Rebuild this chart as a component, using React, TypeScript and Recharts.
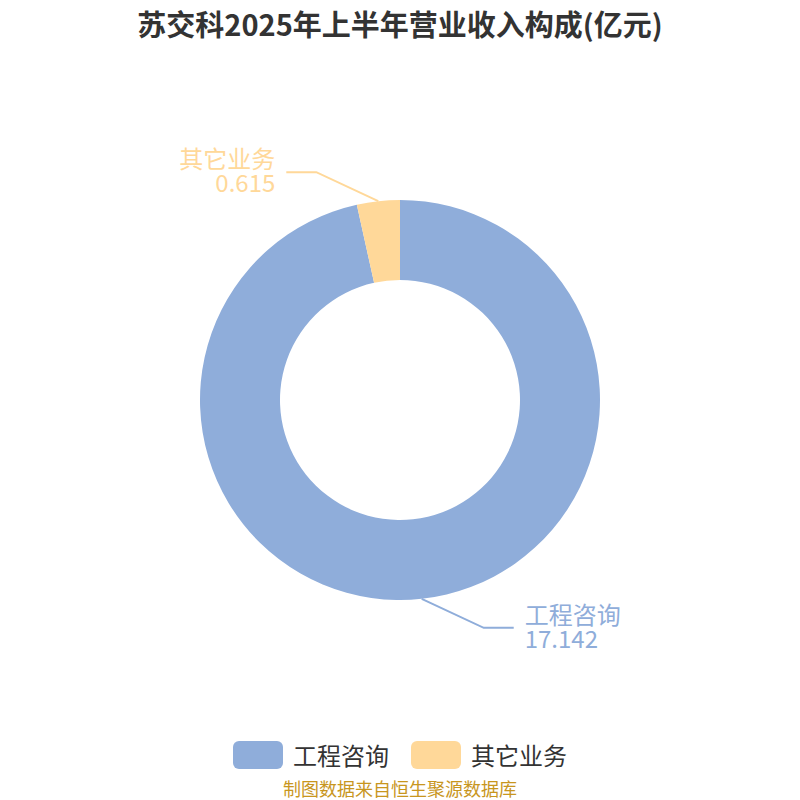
import { PieChart, Pie, Cell, Legend } from "recharts";

const categories = ["工程咨询", "其它业务"];
const values = [17.142, 0.615];
const COLORS = ["#8FADDA", "#FFD899"];

const data = categories.map((name, i) => ({ name, value: values[i] }));

const FONT = '"Noto Sans CJK SC", "Noto Sans", sans-serif';
const RAD = Math.PI / 180;

const renderLabel = (props: any) => {
    const { cx, cy, midAngle, outerRadius, index, value, name } = props;
    const cos = Math.cos(-midAngle * RAD);
    const sin = Math.sin(-midAngle * RAD);
    const sx = cos >= 0 ? 1 : -1;
    const sy = sin >= 0 ? 1 : -1;
    const x1 = cx + outerRadius * cos;
    const y1 = cy + outerRadius * sin;
    const x2 = x1 + sx * 62;
    const y2 = y1 + sy * 29;
    const x3 = x2 + sx * 30;
    const color = COLORS[index % COLORS.length];
    const tx = x3 + sx * 11;
    return (
        <g>
            <polyline points={`${x1},${y1} ${x2},${y2} ${x3},${y2}`} fill="none" stroke={color} strokeWidth={2} />
            <text x={tx} y={y2 - 4} fill={color} fontSize={24} fontFamily={FONT} textAnchor={sx > 0 ? "start" : "end"}>
                {name}
            </text>
            <text x={tx} y={y2 + 20} fill={color} fontSize={24} fontFamily={FONT} textAnchor={sx > 0 ? "start" : "end"}>
                {value}
            </text>
        </g>
    );
};

const renderLegend = () => (
    <div style={{ display: "flex", justifyContent: "center", alignItems: "center", fontFamily: FONT }}>
        {data.map((d, i) => (
            <div key={d.name} style={{ display: "flex", alignItems: "center", marginRight: i === 0 ? 22 : 0 }}>
                <div style={{ width: 50, height: 28, borderRadius: 6, background: COLORS[i], marginRight: 10 }} />
                <span style={{ fontSize: 24, color: "#333" }}>{d.name}</span>
            </div>
        ))}
    </div>
);

export default function App() {
    return (
        <div style={{ position: "absolute", left: 0, top: 0, width: 800, height: 800, background: "#fff", overflow: "hidden" }}>
            <div style={{ position: "absolute", top: 2, width: 800, textAlign: "center", fontFamily: FONT, fontSize: 29, fontWeight: "bold", color: "#333" }}>
                苏交科2025年上半年营业收入构成(亿元)
            </div>
            <PieChart width={800} height={800} margin={{ top: 0, right: 0, left: 0, bottom: 0 }}>
                <Pie
                    data={data}
                    dataKey="value"
                    nameKey="name"
                    cx={400}
                    cy={400}
                    innerRadius={120}
                    outerRadius={200}
                    startAngle={90}
                    endAngle={-270}
                    stroke="none"
                    label={renderLabel}
                    labelLine={false}
                    isAnimationActive={false}
                >
                    {data.map((entry, index) => (
                        <Cell key={`cell-${index}`} fill={COLORS[index % COLORS.length]} />
                    ))}
                </Pie>
                <Legend content={renderLegend} wrapperStyle={{ position: "absolute", top: 737, left: 0, width: 800, height: 38 }} />
            </PieChart>
            <div style={{ position: "absolute", top: 778, width: 800, textAlign: "center", fontFamily: FONT, fontSize: 18, lineHeight: "20px", color: "#C8961E" }}>
                制图数据来自恒生聚源数据库
            </div>
        </div>
    );
}
